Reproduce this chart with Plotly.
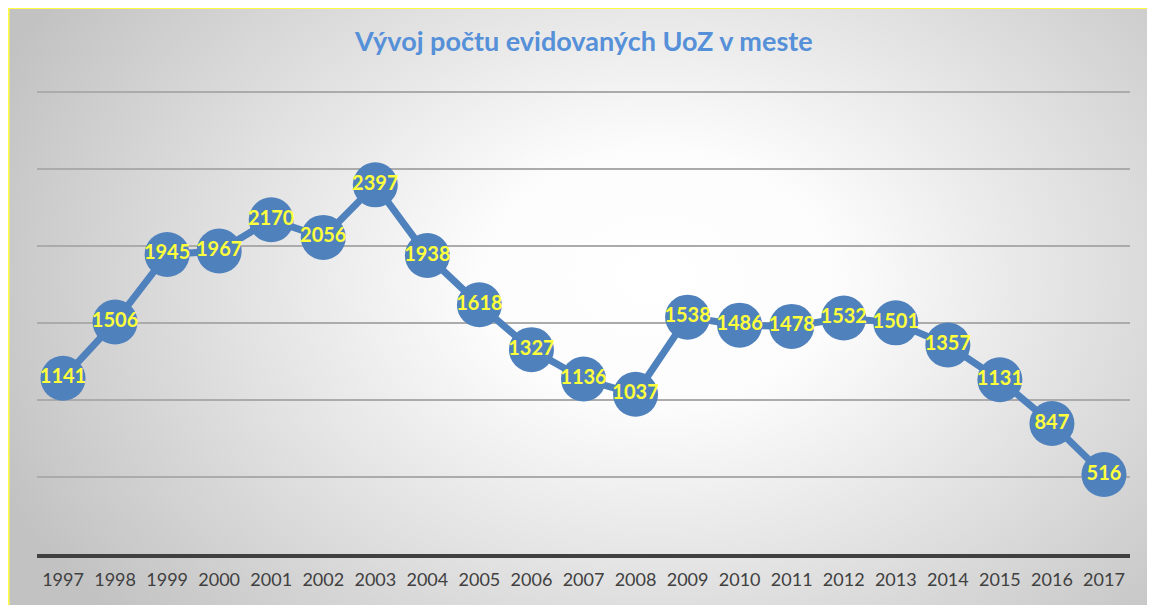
import base64
import plotly.graph_objects as go

years = [str(y) for y in range(1997, 2018)]
values = [1141, 1506, 1945, 1967, 2170, 2056, 2397, 1938, 1618, 1327, 1136,
          1037, 1538, 1486, 1478, 1532, 1501, 1357, 1131, 847, 516]
title_text = "Vývoj počtu evidovaných UoZ v meste"

W, H = 1147, 597
ML, MR, MT, MB = 29, 25, 82, 51
PW, PH = W - ML - MR, H - MT - MB

svg = f'''<svg xmlns="http://www.w3.org/2000/svg" width="{W}" height="{H}" viewBox="0 0 {W} {H}" preserveAspectRatio="none">
<defs><radialGradient id="g" gradientUnits="userSpaceOnUse" cx="650" cy="270" r="720" gradientTransform="translate(650 270) scale(1 0.72) translate(-650 -270)">
<stop offset="0" stop-color="#ffffff"/><stop offset="0.25" stop-color="#fcfcfc"/><stop offset="1" stop-color="#c2c2c2"/></radialGradient></defs>
<rect x="0" y="0" width="{W}" height="{H}" fill="url(#g)"/>
<line x1="0" y1="0" x2="0" y2="{H}" stroke="#ffff40" stroke-width="3"/>
<line x1="0" y1="0" x2="{W}" y2="0" stroke="#ffff40" stroke-width="2"/>
</svg>'''
src = "data:image/svg+xml;base64," + base64.b64encode(svg.encode()).decode()

fig = go.Figure()
fig.add_trace(go.Scatter(
    x=years, y=values, mode="lines+markers+text",
    line=dict(color="#4f81bd", width=7),
    marker=dict(size=45, color="#4f81bd"),
    text=[str(v) for v in values], textposition="middle center",
    textfont=dict(family="Lato", size=20, color="#ffff3c", weight="bold"),
    cliponaxis=False, hoverinfo="skip",
))

fig.update_layout(
    width=W, height=H,
    margin=dict(l=ML, r=MR, t=MT, b=MB),
    paper_bgcolor="rgba(0,0,0,0)", plot_bgcolor="rgba(0,0,0,0)",
    showlegend=False,
    title=dict(text="<b>" + title_text + "</b>", x=0.502, xanchor="center",
               y=1 - 34 / H, yanchor="middle",
               font=dict(family="Lato", size=27, color="#5590d8")),
    images=[dict(source=src, xref="paper", yref="paper",
                 x=-ML / PW, y=1 + MT / PH, sizex=W / PW, sizey=H / PH,
                 xanchor="left", yanchor="top", sizing="stretch", layer="below")],
    xaxis=dict(type="category", range=[-0.5, len(years) - 0.5],
               showgrid=False, zeroline=False,
               showline=True, linecolor="#404040", linewidth=4,
               ticks="outside", ticklen=6, tickcolor="rgba(0,0,0,0)",
               tickfont=dict(family="Lato", size=18, color="#404040"),
               fixedrange=True),
    yaxis=dict(range=[0, 3013], tickvals=[500, 1000, 1500, 2000, 2500, 3000],
               showticklabels=False,
               showgrid=True, gridcolor="#ababab", gridwidth=1.5,
               zeroline=False, fixedrange=True),
)

fig.write_html("out.html")
